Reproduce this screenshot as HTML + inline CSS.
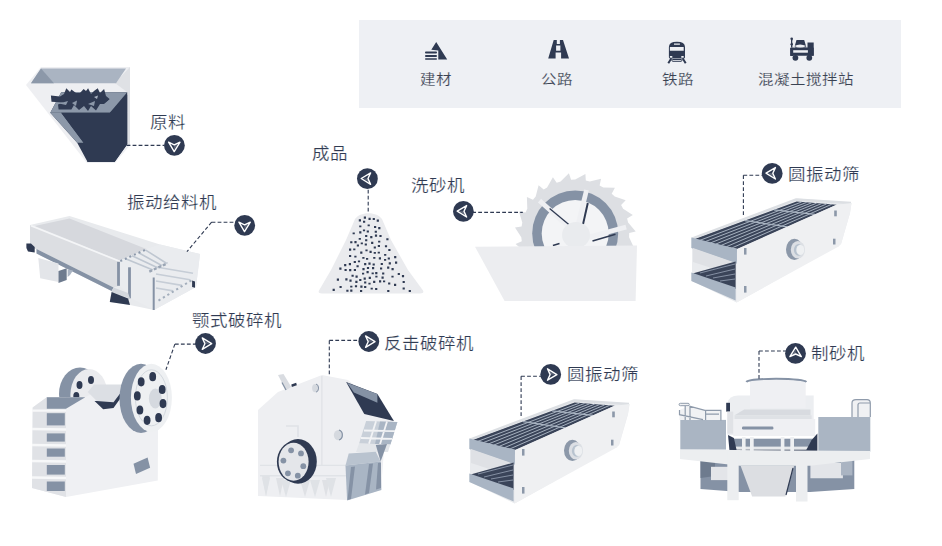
<!DOCTYPE html>
<html lang="zh-CN"><head><meta charset="utf-8">
<style>
html,body{margin:0;padding:0;background:#fff;width:942px;height:546px;overflow:hidden}
svg{display:block;position:absolute;left:0;top:0}
text{font-family:"Liberation Sans",sans-serif;fill:#2f3a52}
.lb{font-size:17.5px;stroke:#fff;stroke-width:0.2px}
.pl{font-size:15.5px;fill:#3a4252;stroke:#eef0f4;stroke-width:0.15px}
.dl{fill:none;stroke:#2f3a52;stroke-width:1.1;stroke-dasharray:3.8 2.2}
.nv{fill:#2f3a52}
</style></head>
<body>
<svg width="942" height="546" viewBox="0 0 942 546">
<defs>
 <g id="mk">
  <circle r="10.4" fill="#2f3a52"/>
  <path d="M-3.2,-5.6 L6.2,0.2 L-3.2,5.8 L-0.6,0.2 Z" fill="none" stroke="#fff" stroke-width="1.4" stroke-linejoin="round"/>
  <path d="M-2.4,-3.8 L-0.6,0.2 L4.2,0.2 Z" fill="#fff" opacity="0.25"/>
 </g>
</defs>

<!-- top panel -->
<rect x="359" y="20" width="542" height="88" fill="#eef0f4"/>
<text class="pl" transform="translate(436 84) scale(1 0.89)" text-anchor="middle">建材</text>
<text class="pl" transform="translate(557 84) scale(1 0.89)" text-anchor="middle">公路</text>
<text class="pl" transform="translate(678 84) scale(1 0.89)" text-anchor="middle">铁路</text>
<text class="pl" transform="translate(806 84) scale(1 0.89)" text-anchor="middle">混凝土搅拌站</text>

<!-- hopper 原料 -->
<g>
 <polygon points="41,67 130,67 130,145 115,163 87,163 26,85" fill="#eeeff2"/>
 <polygon points="115,83 130,67 130,145 127,145 127,92" fill="#dfe1e5"/>
 <polygon points="41,68.5 126,68.5 116,83.2 31,83.2" fill="#aab4c2"/>
 <polygon points="41,68.5 54,83.2 31,83.2" fill="#8c98a9"/>
 <polygon points="61.2,92.2 127.2,92.2 127.2,144.5 114.6,162 87.6,162 77.2,142.8 50.3,112.7" fill="#2f3a52"/>
 <polygon points="61.2,92.2 127.2,92.2 109.9,112.7 50.3,112.7" fill="#8c98a9"/>
 <polygon points="50.3,112.7 61.2,112.7 83.6,142.8 77.2,142.8" fill="#8c98a9"/>
 <polygon points="61.2,112.7 109.9,112.7 127.2,94.7 127.2,144 114.6,162 87.6,162 83.6,142.8" fill="#2f3a52"/>
 <polygon points="50.9,95.4 60,96.5 64,94 66.3,88.3 70,92 71.4,89.6 76,93 80,93 83.6,89 86,91 88.1,88.3 91,94 94,91 97.7,88.3 100,93 104.1,89 106,96 109.9,99.2 104,104 100,104 96,110.5 91,106 88,111 84,106 79,110 74,105 71.4,109.5 58.6,109.5 58,104.4 63.7,102.4 51.5,101.8" fill="#2f3a52"/>
 <polygon points="59,103.5 68,101 66,105" fill="#8c98a9"/>
 <polygon points="72,103 77,100.5 76,106" fill="#8c98a9"/>
 <polygon points="88,104 95,101 94,106" fill="#8c98a9"/>
 <polygon points="114,95 123,95 110,108 101,108" fill="#8c98a9"/>
 <polygon points="94,97 98,95.5 97,99" fill="#aab4c2"/>
</g>

<!-- feeder 振动给料机 -->
<g>
 <polygon points="30,225 69.5,216 160,244.4 200,254 196,287 154,310 130,305 110,302 111.5,291 36.5,253.6 36.5,249 30,249" fill="#e8eaed"/>
 <polygon points="34.7,226 69.5,218.5 146.4,249 119.9,260.5" fill="#d6d8dd"/>
 <polygon points="30,225.5 119.9,261.8 119.9,285.6 113.5,287.5 36.5,249 30,249" fill="#dcdee2"/>
 <polyline points="31,225.8 120,261.5" fill="none" stroke="#f4f5f7" stroke-width="1.6"/>
 <polygon points="36.5,249 113.5,287.5 111.6,291.1 36.5,253.6" fill="#8592a5"/>
 <polygon points="120,260.5 146.4,249 160,244.4 200,254 196,287 154,310 130.9,298 120,286" fill="#eaecef"/>
  <path d="M125.6,258.7 L153.0,269.9 M132.1,255.7 L157.6,267.8 M138.7,252.8 L162.2,265.7 M145.3,249.8 L166.8,263.5 " stroke="#bfc7d1" stroke-width="1.6"/>
 <path d="M156,267 L193,273.3 M156,274 L190,279.8 M156,281 L182,285.4 M156,288 L173,290.9" stroke="#c6cdd6" stroke-width="1.6"/>
 <path d="M120.3,261.1 L146.6,249.2" stroke="#8d99ab" stroke-width="2" stroke-dasharray="2 3"/>
 <path d="M149.3,271.6 L167.7,263.1" stroke="#9aa5b4" stroke-width="2.4" stroke-dasharray="3 2"/>
 <path d="M158.5,300.6 L192.8,279.5" stroke="#a3aebc" stroke-width="2" stroke-dasharray="2.2 3"/>
 <rect x="117.1" y="261.8" width="2.8" height="24" fill="#8592a5"/>
 <rect x="128.1" y="267.3" width="2.8" height="31" fill="#8592a5"/>
 <rect x="152.7" y="277.5" width="2" height="32.5" fill="#8592a5"/>
 <polygon points="192.1,280.4 195,281.5 195,287.8 192.1,287" fill="#2f3a52"/>
 <polygon points="113.5,287.5 128,293 130,298.5 111.6,292" fill="#d3d7dd"/>
 <polygon points="111.6,292 128.1,298.5 130,305 109.8,302.1" fill="#2f3a52"/>
 <polygon points="38.3,258.1 58.5,263.6 58.5,282 40.2,278.3" fill="#e3e5e9"/>
 <polygon points="58.5,271 66.7,268.2 66.7,280.1 58.5,282.9" fill="#6e7b8e"/>
 <polygon points="67.6,269.3 73,270.5 70,275 67.6,277" fill="#aab4c2"/>
 <polygon points="26.4,243.5 31,243.5 34.7,247 34.7,252.6 28,251.5 26.4,248" fill="#2f3a52"/>
</g>

<!-- sand pile 成品 -->
<g>
 <path d="M368.5,213.3 C375,213.3 379,215.5 382,219 L391,240 L408,270 L423,290.5 Q424.5,293.5 420,293.5 L322,293.5 Q317.5,293.5 319,290.5 L331,270 L346,240 L355,219 C358,215.5 362,213.3 368.5,213.3 Z" fill="#eaebee"/>
 <path fill="#2f3a52" d="M360.2,251.6h2.2v2.2h-2.2zM356.8,244.6h2.2v2.0h-2.2zM355.3,280.8h2.2v2.2h-2.2zM366.0,257.9h2.2v1.8h-2.2zM364.7,243.6h2.2v2.0h-2.2zM380.0,267.5h2.2v2.0h-2.2zM372.0,267.1h2.2v2.2h-2.2zM363.6,277.5h2.2v2.2h-2.2zM367.6,224.4h2.2v1.8h-2.2zM332.6,288.8h2.2v2.2h-2.2zM384.1,254.0h2.2v1.8h-2.2zM377.7,251.8h2.2v1.8h-2.2zM366.7,230.4h2.2v2.0h-2.2zM387.1,266.5h2.2v2.2h-2.2zM365.1,234.9h2.2v2.2h-2.2zM372.7,218.1h2.2v1.8h-2.2zM359.2,231.3h2.2v2.2h-2.2zM371.1,241.8h2.2v2.2h-2.2zM378.8,257.2h2.2v2.2h-2.2zM370.2,236.1h2.2v2.2h-2.2zM355.5,275.6h2.2v2.2h-2.2zM374.9,234.6h2.2v2.2h-2.2zM344.1,264.0h2.2v2.2h-2.2zM351.5,274.8h2.2v2.0h-2.2zM364.1,281.5h2.2v2.0h-2.2zM378.1,240.8h2.2v1.8h-2.2zM353.8,268.9h2.2v2.2h-2.2zM366.5,271.1h2.2v2.2h-2.2zM374.0,225.9h2.2v2.2h-2.2zM373.7,246.4h2.2v2.0h-2.2zM377.8,244.9h2.2v2.2h-2.2zM394.0,283.8h2.2v2.2h-2.2zM360.7,242.5h2.2v1.8h-2.2zM359.2,225.4h2.2v1.8h-2.2zM362.9,229.5h2.2v1.8h-2.2zM369.5,250.8h2.2v2.2h-2.2zM349.0,255.1h2.2v1.8h-2.2zM366.9,267.1h2.2v2.0h-2.2zM397.7,273.1h2.2v2.0h-2.2zM372.6,263.4h2.2v2.2h-2.2zM379.4,234.9h2.2v2.2h-2.2zM380.7,263.1h2.2v2.0h-2.2zM384.9,245.2h2.2v2.0h-2.2zM375.3,275.7h2.2v1.8h-2.2zM381.5,276.5h2.2v2.2h-2.2zM388.1,282.6h2.2v2.0h-2.2zM350.2,289.5h2.2v2.2h-2.2zM368.7,276.8h2.2v2.2h-2.2zM395.0,261.5h2.2v2.2h-2.2zM358.7,238.0h2.2v1.8h-2.2zM339.3,267.5h2.2v2.2h-2.2zM357.9,260.5h2.2v1.8h-2.2zM356.5,265.2h2.2v2.0h-2.2zM402.6,287.5h2.2v2.0h-2.2zM374.7,230.8h2.2v2.0h-2.2zM362.0,272.8h2.2v1.8h-2.2zM363.0,220.8h2.2v2.0h-2.2zM365.1,239.2h2.2v2.0h-2.2zM353.7,260.9h2.2v2.2h-2.2zM386.3,238.3h2.2v2.0h-2.2zM336.8,278.6h2.2v2.2h-2.2zM371.6,272.4h2.2v1.8h-2.2zM339.5,285.9h2.2v2.0h-2.2zM373.2,257.0h2.2v1.8h-2.2zM359.2,278.9h2.2v2.2h-2.2zM363.8,216.6h2.2v2.2h-2.2zM368.5,217.8h2.2v2.2h-2.2zM352.6,232.5h2.2v1.8h-2.2zM375.1,288.1h2.2v2.0h-2.2zM394.1,256.0h2.2v2.2h-2.2zM360.0,289.9h2.2v2.2h-2.2zM382.1,272.4h2.2v2.0h-2.2zM353.2,248.4h2.2v1.8h-2.2zM387.7,257.6h2.2v2.0h-2.2zM350.2,241.3h2.2v2.0h-2.2zM387.2,289.9h2.2v2.2h-2.2zM354.3,255.8h2.2v1.8h-2.2zM348.8,263.0h2.2v2.2h-2.2zM358.8,219.3h2.2v2.2h-2.2zM362.4,268.0h2.2v2.2h-2.2zM373.1,280.7h2.2v2.2h-2.2zM388.3,248.9h2.2v2.2h-2.2zM391.4,275.8h2.2v1.8h-2.2zM383.0,280.4h2.2v1.8h-2.2zM365.4,249.4h2.2v1.8h-2.2zM376.7,219.5h2.2v2.2h-2.2zM360.3,285.6h2.2v2.2h-2.2zM349.1,269.1h2.2v2.2h-2.2zM344.5,268.9h2.2v2.0h-2.2zM408.7,289.9h2.2v2.0h-2.2zM391.5,268.1h2.2v2.2h-2.2zM379.0,280.3h2.2v2.2h-2.2zM364.1,263.0h2.2v2.2h-2.2zM345.3,278.3h2.2v2.2h-2.2zM364.1,285.9h2.2v2.0h-2.2zM378.2,227.1h2.2v2.2h-2.2zM370.6,287.7h2.2v1.8h-2.2zM350.2,285.8h2.2v1.8h-2.2zM368.4,282.7h2.2v1.8h-2.2zM384.0,258.9h2.2v1.8h-2.2zM375.2,272.0h2.2v2.2h-2.2zM349.0,248.6h2.2v2.2h-2.2zM354.9,285.2h2.2v2.0h-2.2zM401.9,275.1h2.2v2.2h-2.2zM346.3,289.7h2.2v2.0h-2.2zM362.3,257.0h2.2v1.8h-2.2zM373.7,252.0h2.2v1.8h-2.2zM388.7,262.2h2.2v2.2h-2.2zM354.4,241.0h2.2v2.2h-2.2zM368.4,262.6h2.2v2.2h-2.2zM402.6,280.9h2.2v2.2h-2.2zM349.4,279.5h2.2v2.2h-2.2z"/>
</g>

<!-- washer 洗砂机 -->
<g>
 <path d="M575.2,179.5 L585.4,173.9 L585.8,180.5 L589.8,181.5 L601.1,178.8 L599.6,185.4 L603.3,187.4 L614.9,187.8 L611.7,193.7 L614.7,196.6 L625.7,200.2 L621.1,205.1 L623.1,208.7 L632.8,215.1 L627.1,218.5 L628.1,222.5 L635.7,231.4 L629.2,233.1 L629.1,237.2 L634.0,247.7 L627.3,247.6 L626.1,251.6 L628.0,263.1 L621.6,261.2 L619.3,264.6 L618.0,276.2 L612.4,272.7 L609.3,275.4 L604.9,286.2 L600.4,281.2 L596.7,283.0 L589.6,292.3 L586.6,286.3 L582.6,287.0 L573.2,294.0 L572.0,287.4 L567.8,287.0 L557.0,291.2 L557.5,284.5 L553.7,283.0 L542.1,284.1 L544.4,277.9 L541.1,275.4 L529.7,273.3 L533.6,267.9 L531.1,264.6 L520.6,259.6 L525.8,255.4 L524.3,251.6 L515.6,243.9 L521.8,241.3 L521.3,237.2 L515.0,227.4 L521.6,226.6 L522.3,222.5 L518.9,211.4 L525.5,212.4 L527.3,208.7 L526.9,197.0 L533.0,199.8 L535.7,196.6 L538.6,185.3 L543.7,189.6 L547.1,187.4 L552.9,177.2 L556.7,182.8 L560.6,181.5 L568.9,173.3 L571.1,179.7Z" fill="#dddfe3"/>
 <circle cx="575.2" cy="233.5" r="43" fill="#8592a5"/>
 <circle cx="575.2" cy="233.5" r="33.5" fill="#f3f4f6"/>
 <path d="M541.3,202.2 L576,233" stroke="#eff0f3" stroke-width="4.8" stroke-linecap="square"/>
 <path d="M549.6,208.5 L569.4,225" stroke="#2f3a52" stroke-width="1.3"/>
 <path d="M586,192.3 L576,233" stroke="#eff0f3" stroke-width="4.8" stroke-linecap="square"/>
 <path d="M587.8,203 L583,224.4" stroke="#2f3a52" stroke-width="2"/>
 <path d="M623.8,227.7 L578,240" stroke="#eff0f3" stroke-width="4.8" stroke-linecap="square"/>
 <path d="M592.5,240.9 L615.5,234.3" stroke="#2f3a52" stroke-width="1.6"/>
 <path d="M552.9,245.5 L559.5,243.6" stroke="#2f3a52" stroke-width="1.6"/>
 <ellipse cx="576" cy="235" rx="14" ry="13" fill="#e9ebee"/>
 <polygon points="475,246.7 637,245.4 635.6,301 504.6,301" fill="#ecedf0"/>
</g>

<!-- vibrating screen (top) -->
<g id="scr">
 <polygon points="692,238 797,198.5 847.7,202.2 851.5,203 850,213 841,244 736.6,302.5 692,281" fill="#e9ebee"/>
 <polygon points="693.4,239.5 796.6,201.6 836.7,204.7 737.7,249" fill="#3a4459"/>
  <path d="M698.9,240.7 L801.6,202.0 M704.5,241.9 L806.6,202.4 M710.0,243.1 L811.6,202.8 M715.5,244.2 L816.7,203.1 M721.1,245.4 L821.7,203.5 M726.6,246.6 L826.7,203.9 M732.2,247.8 L831.7,204.3 " stroke="#a6b1bf" stroke-width="1"/>
 <path d="M745.0,220.6 L787.2,226.8 M773.9,209.9 L814.9,214.4 " stroke="#a9b4c2" stroke-width="1.2"/>
 <polyline points="692,238.5 796,199.5 851,203" fill="none" stroke="#dcdfe3" stroke-width="2.4"/>
 <polygon points="691.3,237.5 737.7,249 737,263.7 691.3,248" fill="#a9b5c4"/>
 <polygon points="693,248 736,263 736,276 693,262" fill="#dfe1e5"/>
 <polygon points="693.4,273.2 735.6,261.6 735.6,289 693.4,276" fill="#3a4459"/>
 <path d="M700,273 L735,264 M706,276 L735,269 M713,278 L735,274 M720,281 L735,279" stroke="#8d99ab" stroke-width="0.9"/>
 <polygon points="691.3,272.5 735.6,287.5 735.6,300.6 691.3,281" fill="#a9b5c4"/>
 <polygon points="737,249 836.5,204.7 851.5,203 850,213 841,244 838.7,246.4 736.6,302.5" fill="#eff0f2"/>
 <ellipse cx="794.4" cy="249.4" rx="8.4" ry="10.6" fill="#8c98a9"/>
 <ellipse cx="797.9" cy="249.8" rx="7.1" ry="8.8" fill="#dcdfe4"/>
 <ellipse cx="798.5" cy="249.9" rx="4.6" ry="5.8" fill="#b8c3cf"/>
 <ellipse cx="800.3" cy="249.9" rx="4" ry="5.2" fill="#eef0f2"/>
 <rect x="744" y="248" width="2.5" height="6.6" fill="#8c98a9"/>
 <rect x="834.2" y="210.5" width="2.6" height="5.8" fill="#8c98a9"/>
 <rect x="833" y="238.7" width="2.5" height="5.8" fill="#8c98a9"/>
 <rect x="744" y="286" width="2.5" height="6.6" fill="#8c98a9"/>
</g>
<use href="#scr" transform="translate(-222,201)"/>

<!-- jaw crusher 颚式破碎机 -->
<g>
 <ellipse cx="80" cy="394" rx="21" ry="26.5" fill="#8592a5"/>
 <ellipse cx="89" cy="395" rx="18.6" ry="26" fill="#eaebee"/>
 <g fill="#2f3a52"><ellipse cx="79.5" cy="385" rx="3" ry="4"/><ellipse cx="91" cy="380" rx="3" ry="4"/><ellipse cx="76.3" cy="396" rx="3" ry="4"/></g>
 <polygon points="32.7,407.4 46.8,397.2 85.3,397.2 95,392 122,390 158,420 157.8,480.5 66,497 32,488" fill="#eff0f3"/>
 <polygon points="32.7,407.4 46.8,397.2 66,397.2 66,497 32,488" fill="#e0e2e6"/>
 <polygon points="46.8,397.2 85.3,397.2 66,408.7 46.8,408.7" fill="#8592a5"/>
 <rect x="46.8" y="413.2" width="18" height="12.2" fill="#8592a5"/>
 <rect x="46.8" y="433.4" width="18" height="8.2" fill="#8592a5"/>
 <rect x="46.8" y="448.5" width="18" height="8.2" fill="#8592a5"/>
 <rect x="46.8" y="465" width="18" height="9.6" fill="#8592a5"/>
 <rect x="46.8" y="481.5" width="18" height="9.5" fill="#8592a5"/>
 <path d="M32,410.6 H66 M32,429 L66,429.5 M32,445 L66,445.5 M32,461 L66,461.5 M32,477.5 L66,478" stroke="#f7f8f9" stroke-width="2.4"/>
 <polygon points="87.8,392 94.2,384.4 122.4,384.4 122.4,393.3 113.5,402.3 96.8,401" fill="#dcdfe4"/>
 <polygon points="94.5,401 103.2,409.2 113.5,408 122.4,395.5 122.4,390.5 113.5,402.3 96.8,401" fill="#2f3a52"/>
 <ellipse cx="141" cy="398.4" rx="21.5" ry="34.6" fill="#8592a5"/>
 <ellipse cx="151.4" cy="397.8" rx="20.5" ry="34" fill="#eef0f2"/>
 <ellipse cx="151.4" cy="397.8" rx="16" ry="28" fill="none" stroke="#d3d8de" stroke-width="1"/>
 <ellipse cx="155.3" cy="398.5" rx="6.4" ry="10" fill="#d5d9df"/>
 <g fill="#2f3a52">
  <ellipse cx="141.2" cy="381.8" rx="3.4" ry="4.6"/><ellipse cx="152.7" cy="376.7" rx="3.4" ry="4.6"/><ellipse cx="162.2" cy="389.5" rx="3.4" ry="4.6"/><ellipse cx="163" cy="403.6" rx="3.4" ry="4.6"/>
  <ellipse cx="158.6" cy="417.7" rx="3.4" ry="4.6"/><ellipse cx="147.1" cy="420.3" rx="3.4" ry="4.6"/><ellipse cx="139.9" cy="410" rx="3.4" ry="4.6"/><ellipse cx="137.3" cy="395.9" rx="3.4" ry="4.6"/>
 </g>
 <polygon points="133.5,463.8 147.6,457.4 150.1,467.7 136,474.1" fill="#8592a5"/>
</g>

<!-- impact crusher 反击破碎机 -->
<g>
 <polygon points="258,410 278,392 322,375 348,380 394,420 384,450 381,490 347,500 258,496" fill="#eeeff2"/>
 <path d="M262,476 L266,496 L270,476 M276,478 L280,496 L284,478 M300,480 L305,497 L310,480 M322,480 L326,497 L330,480" fill="#dfe1e5"/>
 <polygon points="262,478 270,478 266,496" fill="#dfe2e6"/><polygon points="281,480 291,480 286,497" fill="#dfe2e6"/>
 <polygon points="310,480 320,480 315,497" fill="#dfe2e6"/><polygon points="326,478 336,478 331,497" fill="#dfe2e6"/>
 <path d="M260,465.4 H346 M260,475.7 H346" stroke="#e0e3e7" stroke-width="1.4"/>
 <path d="M286,426 H298 V437" fill="none" stroke="#dfe2e6" stroke-width="1.6"/>
 <polygon points="346.1,382 377.4,394.1 393.9,421.1 364.3,414.1" fill="#2f3a52"/>
 <polygon points="347,382.8 377.4,394.1 377.4,402.8 353.9,392.4" fill="#8592a5"/>
 <polygon points="366.1,421.1 397.4,421.9 390.4,444.5 359.1,443.6" fill="#c9d0d9"/><polygon points="380,421.5 397.4,421.9 390.4,444.5 375,444" fill="#a9b5c4"/>
 <path d="M364,430.5 L395,431.2 M361,438 L392,438.8 M376,421.3 L369,443.8 M387,421.6 L380,444.2" stroke="#f2f3f5" stroke-width="1.8"/>
 <polygon points="359.1,443.6 390.4,444.5 388,452 356,452" fill="#e3e6ea"/>
 <polygon points="348.7,453.4 375.8,451.8 380.6,461.4 345.5,465.4" fill="#b9c3cf"/>
 <polygon points="375.8,445 387,444 380.6,461.4" fill="#8592a5"/>
 <polygon points="345.5,465.4 380.6,461.4 381.4,490 347.1,500.4" fill="#a9b5c4"/>
 <polygon points="351,467 355,466.5 351,499 347.5,500" fill="#8592a5"/>
 <polygon points="369,464 373,463.5 369,493 365,494.5" fill="#8592a5"/>
 <polygon points="378,463 381,462.5 381,488 376,489.5" fill="#8592a5"/>
 <line x1="321.9" y1="376" x2="321.9" y2="465" stroke="#dfe2e6" stroke-width="1.2"/>
 <ellipse cx="315.4" cy="388.1" rx="3.3" ry="4.2" fill="#d5d9df"/><path d="M316,384 A3.3,4.2 0 0,1 316,392.2" fill="none" stroke="#8592a5" stroke-width="1"/>
 <ellipse cx="338.4" cy="435.1" rx="4.6" ry="5.2" fill="#d5d9df"/>
 <path d="M339,430 A4.6,5.2 0 0,1 339,440" fill="none" stroke="#8592a5" stroke-width="1.2"/>
 <polygon points="278,375 283.5,374 291.3,387 285.8,390.3" fill="#d9dce1"/><path d="M282,382.5 L286,390" stroke="#8592a5" stroke-width="1.3"/>
 <polygon points="291.3,384.5 296.2,382.8 296.8,385.3 291.8,386.9" fill="#2f3a52"/>
 <ellipse cx="298" cy="461.4" rx="18.8" ry="22.3" fill="#2f3a52"/>
 <ellipse cx="293.4" cy="461.8" rx="16.5" ry="20" fill="#2f3a52"/>
 <ellipse cx="293.6" cy="461.8" rx="15" ry="19" fill="#e4e6ea"/>
 <g fill="#8592a5">
  <circle cx="291.1" cy="450.3" r="2.9"/><circle cx="301" cy="453.4" r="2.9"/><circle cx="283.4" cy="460.6" r="2.9"/><circle cx="303.3" cy="466.2" r="2.9"/>
  <circle cx="287.9" cy="473.3" r="2.9"/><circle cx="297.8" cy="475.7" r="2.9"/>
 </g>
</g>

<!-- VSI 制砂机 -->
<g>
 <polygon points="700.5,460 854.3,460 854.3,489 810,492 740,492 700.5,489" fill="#8592a5"/>
 <polygon points="700.5,460 715,460 715,476 700.5,478" fill="#6e7b8e"/>
 <polygon points="711,466.8 737.8,466.8 737.8,480.1 711,480.1" fill="#e3e5e9"/>
 <polygon points="810.4,463 842.9,463 842.9,478.2 810.4,478.2" fill="#e3e5e9"/>
 <polygon points="841,461 852.4,461 852.4,475.4 841,475.4" fill="#aab4c2"/>
 <rect x="680.3" y="419.9" width="45.7" height="29.7" fill="#aab5c3"/>
 <rect x="818.3" y="417" width="52" height="34.7" fill="#aab5c3"/>
 <polygon points="679.5,410 689.3,406.1 704.9,410.3 720.9,410.3 720.9,420 679.5,420" fill="#f1f2f4"/>
 <path d="M689.3,406.1 L704.9,410.3 H720.9 V420.5 M679.5,410 V414.7 L703,419.6 M705.6,414.1 H719 M685.2,405.5 V420 M690,406 V420 M705.6,410.3 V420" fill="none" stroke="#8f9bab" stroke-width="1.2"/>
 <rect x="679.1" y="403.3" width="10.2" height="2.4" rx="1.2" fill="#f1f2f4" stroke="#8f9bab" stroke-width="1"/>
 <path d="M852,417 V403 Q852,399.7 856,399.7 H867 Q870.3,399.7 870.3,403 V417 Z" fill="#f0f1f3"/><path d="M852,417 V403 Q852,399.7 856,399.7 H867 Q870.3,399.7 870.3,403 V417 M858,417 V405 Q858,403 860,403 H870" fill="none" stroke="#8f9bab" stroke-width="1.2"/>
 <path d="M727.5,403 Q729,395.5 738,395.5 H813.7 V435 H727.5 Z" fill="#eceef1"/>
 <polygon points="744.2,409.4 810.5,409.4 810.5,415.3 734.6,415.3" fill="#d8dbe0"/>
 <rect x="734.6" y="415.3" width="77" height="3.7" fill="#dfe2e6"/>
 <rect x="733.2" y="419" width="82" height="17" fill="#eff0f3"/>
 <rect x="726.2" y="402.8" width="3.8" height="8.8" fill="#2f3a52"/>
 <rect x="727.3" y="411.6" width="5.9" height="22" fill="#e0e2e6"/>
 <rect x="742" y="426.5" width="31.4" height="3" rx="1.2" fill="#8592a5"/>
 <rect x="733.9" y="438.7" width="79.8" height="8.1" fill="#8592a5"/>
 <rect x="733.9" y="446.8" width="79.8" height="2.9" fill="#e6e8eb"/>
 <rect x="733.9" y="449.7" width="79.8" height="2.2" fill="#2f3a52"/>
 <polygon points="728,435 733.9,438 736.8,451.1 729.5,451.1" fill="#2f3a52"/>
 <polygon points="817.4,433.6 817.4,451.1 805.7,451.1 811.5,440.2" fill="#2f3a52"/>
 <rect x="742" y="437" width="3.6" height="15" fill="#eef0f2"/><rect x="750" y="437" width="3.7" height="15" fill="#eef0f2"/>
 <rect x="780.8" y="437" width="3.6" height="15" fill="#eef0f2"/><rect x="790.3" y="437" width="3.7" height="15" fill="#eef0f2"/>
 <polygon points="750,380 805.7,380 805.7,408 750,408" fill="#eff0f3"/>
 <path d="M746.4,382 Q748,379 776,378.7 Q804,379 806.4,382" fill="none" stroke="#8592a5" stroke-width="1.9"/>
 <polygon points="680,449.6 870,451 870,459 810,465.8 740,465.8 680,459" fill="#eceef0"/>
 <polygon points="740.6,465.8 794.1,465.8 785.5,496.4 752.1,496.4" fill="#dcdee2"/>
 <path d="M793,468 L786,495" stroke="#2f3a52" stroke-width="1.2"/>
 <rect x="727.3" y="451.5" width="11.4" height="48.7" fill="#eceef0"/>
 <rect x="796" y="451.5" width="11.5" height="50" fill="#eceef0"/>
</g>

<!-- panel icons -->
<g fill="#2f3a52">
 <polygon points="436.2,42 447.2,59.6 438.3,59.6 438.3,50.6 431.3,49.8"/>
 <rect x="425" y="51.6" width="12" height="1.9" rx="0.9"/>
 <rect x="425" y="55" width="12" height="1.9" rx="0.9"/>
 <rect x="425" y="58.3" width="12" height="1.5" rx="0.7"/>
 <path fill-rule="evenodd" d="M553.7,40 H563 L569,58.6 H548.2 Z M556.8,40 V43.9 H559.9 V40 Z M556.1,45.5 V50.8 H560.4 V45.5 Z M555.6,52.4 V58.6 H561.1 V52.4 Z"/>
 <path fill-rule="evenodd" d="M668.9,47 Q668.9,41.8 676.9,41.8 Q685,41.8 685,47 V57.3 Q685,58.5 683.8,58.5 H670.1 Q668.9,58.5 668.9,57.3 Z M669.9,47 H683.7 V50.8 H669.9 Z M674,43.4 H679.9 V44.8 H674 Z M669.9,56 H672.3 V57.8 H669.9 Z M681.3,56 H683.7 V57.8 H681.3 Z"/>
 <path d="M671.4,58.3 L668.3,63.2 M682.6,58.3 L685.7,63.2" stroke="#2f3a52" stroke-width="2" fill="none"/>
 <rect x="671.9" y="59.5" width="10" height="1.8" rx="0.9" fill="none" stroke="#2f3a52" stroke-width="1"/>
 <rect x="790.3" y="48" width="3" height="8" />
 <rect x="790.3" y="47.5" width="23.4" height="8.2" rx="0.5"/>
 <rect x="807.5" y="42.5" width="6.2" height="13.2"/>
 <polygon points="796.5,40 804.2,40 806.4,47.6 794.3,47.6"/>
 <circle cx="795.4" cy="57.8" r="2.9"/>
 <circle cx="809.3" cy="57.8" r="2.9"/>
 <circle cx="791.7" cy="38.8" r="1.3"/>
 <rect x="791" y="38.5" width="1.4" height="9"/>
 <rect x="793.2" y="50.2" width="14.7" height="2.5" fill="#eef0f4"/>
 <path d="M794.3,46 Q800,42.8 806.2,46 Q800,49.2 794.3,46 Z" fill="#eef0f4"/><circle cx="791.7" cy="44.3" r="1.2"/><path d="M793,41 L794.3,47.5" stroke="#eef0f4" stroke-width="0.8"/>
</g>

<!-- labels -->
<text class="lb" transform="translate(150 128) scale(1 0.89)">原料</text>
<text class="lb" transform="translate(127 208) scale(1 0.89)">振动给料机</text>
<text class="lb" transform="translate(312 159) scale(1 0.89)">成品</text>
<text class="lb" transform="translate(411 191) scale(1 0.89)">洗砂机</text>
<text class="lb" transform="translate(788 180) scale(1 0.89)">圆振动筛</text>
<text class="lb" transform="translate(192 326) scale(1 0.89)">颚式破碎机</text>
<text class="lb" transform="translate(384 349) scale(1 0.89)">反击破碎机</text>
<text class="lb" transform="translate(567 380) scale(1 0.89)">圆振动筛</text>
<text class="lb" transform="translate(811 359) scale(1 0.89)">制砂机</text>

<!-- dashed leaders -->
<path class="dl" d="M126.6,145.4 H164"/>
<path class="dl" d="M211.6,222.2 L186.9,251.7 M211.6,222.2 H236"/>
<path class="dl" d="M368.2,189.8 V213.2"/>
<path class="dl" d="M472.2,212.4 H522.8"/>
<path class="dl" d="M743.4,175.2 V216.3 M743.4,175.2 H763"/>
<path class="dl" d="M174.9,344.1 L165.9,369.8 M174.9,344.1 H196"/>
<path class="dl" d="M329.3,340.4 V375.2 M329.3,340.4 H360"/>
<path class="dl" d="M521.1,376.3 V418 M521.1,376.3 H542"/>
<path class="dl" d="M759,351 V379.6 M759,351 H787"/>

<!-- markers -->
<use href="#mk" transform="translate(174.4,145.4) rotate(90)"/>
<use href="#mk" transform="translate(244.7,225.4) rotate(90)"/>
<use href="#mk" transform="translate(367.4,178.7) rotate(180)"/>
<use href="#mk" transform="translate(463.4,211.4) rotate(180)"/>
<use href="#mk" transform="translate(772.2,173.4) rotate(180)"/>
<use href="#mk" transform="translate(205.5,343.5)"/>
<use href="#mk" transform="translate(368.8,341.5)"/>
<use href="#mk" transform="translate(550.7,374.4)"/>
<use href="#mk" transform="translate(795.5,353.4) rotate(-90)"/>

</svg>
</body></html>
